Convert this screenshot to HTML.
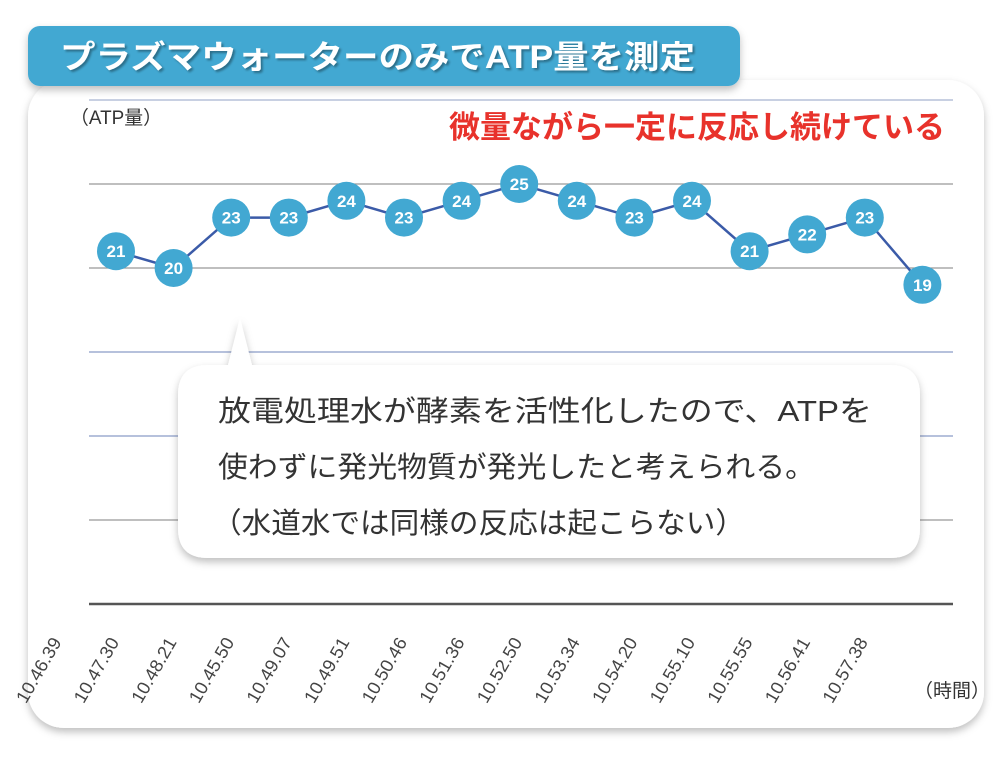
<!DOCTYPE html>
<html><head><meta charset="utf-8"><style>
body{margin:0;background:#fff;}
svg text{font-family:"Liberation Sans","Noto Sans CJK JP",sans-serif;}
</style></head><body>
<svg width="1000" height="768" viewBox="0 0 1000 768">
<defs>
<filter id="sh" x="-10%" y="-10%" width="120%" height="130%"><feDropShadow dx="0" dy="4" stdDeviation="4" flood-color="#000" flood-opacity="0.25"/></filter>
<filter id="ts"><feDropShadow dx="2" dy="2" stdDeviation="1" flood-color="#000" flood-opacity="0.35"/></filter>
</defs>
<rect x="28" y="80" width="956" height="648" rx="36" fill="#fff" filter="url(#sh)"/>
<rect x="28" y="26" width="712" height="60" rx="12" fill="#42a8d2" filter="url(#sh)"/>
<text x="60" y="68" font-size="32" font-weight="bold" fill="#fff" filter="url(#ts)" textLength="635" lengthAdjust="spacingAndGlyphs">プラズマウォーターのみでATP量を測定</text>
<g id="grid"></g>
<text x="70" y="124" font-size="19" fill="#333" textLength="92" lengthAdjust="spacingAndGlyphs">（ATP量）</text>
<text x="945" y="138" font-size="31" font-weight="bold" fill="#e8322b" text-anchor="end">微量ながら一定に反応し続けている</text>
<g id="plot"></g>
<g id="xlab"></g>
<text x="914" y="697" font-size="19" fill="#333">（時間）</text>
<path d="M208,365 L228,365 L240,318 L252,365 L890,365 Q920,365 920,395 L920,528 Q920,558 890,558 L208,558 Q178,558 178,528 L178,395 Q178,365 208,365 Z" fill="#fff" filter="url(#sh)"/>
<g font-size="29" fill="#333">
<text x="218" y="421" textLength="654" lengthAdjust="spacingAndGlyphs">放電処理水が酵素を活性化したので、ATPを</text>
<text x="218" y="477" textLength="597" lengthAdjust="spacingAndGlyphs">使わずに発光物質が発光したと考えられる。</text>
<text x="212" y="533" textLength="533" lengthAdjust="spacingAndGlyphs">（水道水では同様の反応は起こらない）</text>
</g>
</svg>
<script>
const categories=["10.46.39","10.47.30","10.48.21","10.45.50","10.49.07","10.49.51","10.50.46","10.51.36","10.52.50","10.53.34","10.54.20","10.55.10","10.55.55","10.56.41","10.57.38"];
const values=[21,20,23,23,24,23,24,25,24,23,24,21,22,23,19];
const yTicks=[0,5,10,15,20,25,30];
const NS="http://www.w3.org/2000/svg";
const x0=116,dx=57.6,yBase=604,yScale=84/5;
const X=i=>x0+i*dx, Y=v=>yBase-v*yScale;
function mk(t,a,p){const e=document.createElementNS(NS,t);for(const k in a)e.setAttribute(k,a[k]);p.appendChild(e);return e;}
const grid=document.getElementById('grid');
const gcol={0:"#555",5:"#999",10:"#8a9cc8",15:"#8a9cc8",20:"#999",25:"#999",30:"#a8b4d0"};
yTicks.forEach(t=>{const l=mk('line',{x1:89,x2:953,y1:Y(t),y2:Y(t),stroke:gcol[t],'stroke-width':t===0?2.5:1.3},grid);

});
const plot=document.getElementById('plot');
const pl=mk('polyline',{points:values.map((v,i)=>X(i)+','+Y(v)).join(' '),fill:'none',stroke:'#3b5ba8','stroke-width':2.5},plot);


values.forEach((v,i)=>{const c=mk('circle',{cx:X(i),cy:Y(v),r:19,fill:'#42a8d2'},plot);


const t=mk('text',{x:X(i),y:Y(v)+6,'text-anchor':'middle','font-size':17,'font-weight':'bold',fill:'#fff'},plot);
t.textContent=v;

});
const xl=document.getElementById('xlab');
categories.forEach((c,i)=>{const px=X(i)-54,py=642;
const t=mk('text',{x:px,y:py,'text-anchor':'end','font-size':18,fill:'#444',transform:`rotate(-60 ${px} ${py})`,textLength:72,lengthAdjust:'spacingAndGlyphs'},xl);
t.textContent=c;

});
</script>
</body></html>
